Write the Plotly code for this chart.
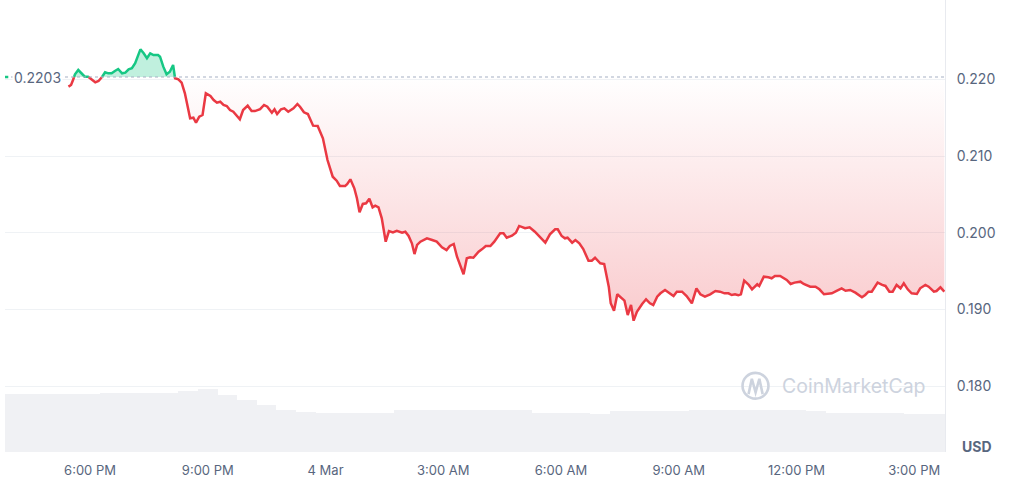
import numpy as np
import pandas as pd
import plotly.graph_objects as go

# ---------------- data ----------------
BASE_PRICE = 0.2203  # reference price (dotted line)
ORIGIN = pd.Timestamp("2024-03-03 18:00")

# minutes after 3 Mar 18:00
price_minutes = [
    -33, -29, -26, -23, -18, -13, -8, -3, 3, 8,
    13, 18, 23, 28, 33, 38, 43, 49, 54, 59,
    64, 69, 77, 82, 87, 92, 97, 104, 107, 112,
    117, 122, 127, 130, 135, 140, 145, 153, 158, 162,
    167, 172, 177, 184, 189, 194, 199, 204, 209, 214,
    219, 227, 229, 234, 241, 247, 252, 260, 266, 271,
    278, 282, 286, 292, 297, 303, 311, 317, 321, 327,
    333, 341, 348, 356, 363, 371, 377, 382, 390, 393,
    398, 404, 408, 412, 417, 422, 427, 432, 436, 441,
    446, 452, 457, 463, 469, 477, 482, 487, 492, 496,
    500, 505, 515, 523, 530, 538, 545, 550, 556, 561,
    567, 571, 576, 581, 586, 594, 599, 605, 612, 618,
    627, 632, 637, 645, 651, 656, 665, 672, 680, 689,
    696, 703, 711, 715, 721, 726, 730, 737, 742, 748,
    754, 762, 767, 772, 780, 786, 793, 796, 801, 806,
    812, 817, 822, 827, 831, 836, 844, 850, 856, 861,
    867, 872, 879, 887, 892, 897, 905, 912, 920, 927,
    933, 940, 948, 956, 963, 970, 976, 981, 986, 991,
    995, 1000, 1007, 1012, 1020, 1023, 1030, 1037, 1042, 1047,
    1055, 1065, 1071, 1077, 1086, 1091, 1096, 1101, 1109, 1115,
    1122, 1129, 1134, 1142, 1149, 1155, 1162, 1170, 1175, 1180,
    1185, 1190, 1195, 1204, 1211, 1216, 1222, 1227, 1233, 1239,
    1244, 1250, 1256, 1264, 1269, 1277, 1282, 1290, 1294, 1300, 1306,
]
price_values = [
    0.21904, 0.21926, 0.21991, 0.22065, 0.22121, 0.22078, 0.22034, 0.22034, 0.22000, 0.21961,
    0.21978, 0.22026, 0.22091, 0.22078, 0.22078, 0.22108, 0.22134, 0.22078, 0.22086, 0.22130,
    0.22144, 0.22209, 0.22391, 0.22339, 0.22274, 0.22339, 0.22317, 0.22317, 0.22295, 0.22165,
    0.22065, 0.22099, 0.22187, 0.22013, 0.22000, 0.21956, 0.21817, 0.21492, 0.21499, 0.21434,
    0.21512, 0.21534, 0.21817, 0.21782, 0.21730, 0.21695, 0.21708, 0.21665, 0.21652, 0.21599,
    0.21577, 0.21505, 0.21479, 0.21599, 0.21656, 0.21586, 0.21586, 0.21612, 0.21665, 0.21643,
    0.21564, 0.21609, 0.21547, 0.21609, 0.21622, 0.21577, 0.21622, 0.21678, 0.21643, 0.21570,
    0.21547, 0.21396, 0.21392, 0.21231, 0.20948, 0.20730, 0.20678, 0.20609, 0.20609, 0.20632,
    0.20696, 0.20579, 0.20449, 0.20266, 0.20375, 0.20384, 0.20443, 0.20331, 0.20352, 0.20331,
    0.20188, 0.19883, 0.20022, 0.20005, 0.20026, 0.20000, 0.20013, 0.19957, 0.19862, 0.19722,
    0.19840, 0.19883, 0.19927, 0.19905, 0.19883, 0.19809, 0.19774, 0.19827, 0.19853, 0.19687,
    0.19549, 0.19458, 0.19666, 0.19679, 0.19674, 0.19752, 0.19783, 0.19827, 0.19827, 0.19883,
    0.19992, 0.19992, 0.19935, 0.19961, 0.20000, 0.20088, 0.20058, 0.20071, 0.20013, 0.19935,
    0.19870, 0.19979, 0.20045, 0.20045, 0.19957, 0.19927, 0.19935, 0.19870, 0.19905, 0.19862,
    0.19787, 0.19635, 0.19635, 0.19674, 0.19601, 0.19592, 0.19297, 0.19080, 0.18983, 0.19197,
    0.19145, 0.19114, 0.18927, 0.19058, 0.18853, 0.18970, 0.19071, 0.19132, 0.19080, 0.19058,
    0.19166, 0.19210, 0.19253, 0.19201, 0.19175, 0.19231, 0.19231, 0.19175, 0.19080, 0.19275,
    0.19197, 0.19166, 0.19197, 0.19240, 0.19231, 0.19210, 0.19210, 0.19188, 0.19197, 0.19184,
    0.19197, 0.19375, 0.19319, 0.19262, 0.19328, 0.19306, 0.19427, 0.19419, 0.19406, 0.19436,
    0.19436, 0.19384, 0.19332, 0.19349, 0.19362, 0.19332, 0.19319, 0.19297, 0.19297, 0.19262,
    0.19197, 0.19210, 0.19210, 0.19244, 0.19275, 0.19244, 0.19253, 0.19218, 0.19188, 0.19158,
    0.19188, 0.19231, 0.19231, 0.19349, 0.19319, 0.19306, 0.19231, 0.19231, 0.19319, 0.19275,
    0.19341, 0.19262, 0.19210, 0.19201, 0.19275, 0.19319, 0.19296, 0.19231, 0.19240, 0.19288, 0.19231,
]

# volume bars: every 30 minutes from 3 Mar 16:00 (millions USD, estimated)
volume_start = "2024-03-03 16:00"
volume_values = [
    5.8, 5.8, 5.8, 5.8,
    5.8, 5.9, 5.9, 5.9, 5.9, 6.1, 6.3, 5.7, 5.2, 4.7, 4.2, 4.0,
    3.9, 3.9, 3.9, 3.9, 4.2, 4.2, 4.2, 4.2, 4.2, 4.2, 4.2, 3.9, 3.9, 3.9, 3.8, 4.1,
    4.1, 4.1, 4.1, 4.2, 4.2, 4.2, 4.2, 4.2, 4.2, 4.1, 3.9, 3.9, 3.9, 3.9, 3.8, 3.8,
    3.8,
]

x_tick_vals = ["2024-03-03 18:00", "2024-03-03 21:00", "2024-03-04 00:00", "2024-03-04 03:00",
               "2024-03-04 06:00", "2024-03-04 09:00", "2024-03-04 12:00", "2024-03-04 15:00"]
x_tick_text = ["6:00 PM", "9:00 PM", "4 Mar", "3:00 AM", "6:00 AM", "9:00 AM", "12:00 PM", "3:00 PM"]
y_tick_vals = [0.18, 0.19, 0.20, 0.21, 0.22]
y_tick_text = ["0.180", "0.190", "0.200", "0.210", "0.220"]

X_RANGE = ["2024-03-03 15:50", "2024-03-04 15:47"]
Y_RANGE = [0.17141, 0.23034]

GREEN = "#16c784"
RED = "#ea3943"
TEXT = "#58667e"
GRID = "#eff2f5"
FONT = "Inter, sans-serif"

# ---------------- build geometry ----------------
xs = np.array(price_minutes, dtype=float)
ys = np.array(price_values, dtype=float)
X, Y = [xs[0]], [ys[0]]
for i in range(1, len(xs)):
    y0, y1 = ys[i - 1], ys[i]
    if (y0 - BASE_PRICE) * (y1 - BASE_PRICE) < 0:
        f = (BASE_PRICE - y0) / (y1 - y0)
        X.append(xs[i - 1] + f * (xs[i] - xs[i - 1]))
        Y.append(BASE_PRICE)
    X.append(xs[i])
    Y.append(ys[i])
X = np.array(X)
Y = np.array(Y)
T = ORIGIN + pd.to_timedelta(X, unit="m")

upper = np.where(Y >= BASE_PRICE - 1e-12, Y, np.nan)
lower = np.where(Y <= BASE_PRICE + 1e-12, Y, np.nan)
base_arr = np.full(len(Y), BASE_PRICE)

vol_t = pd.date_range(volume_start, periods=len(volume_values), freq="30min")

fig = go.Figure()

# volume (secondary axis)
fig.add_trace(go.Bar(x=vol_t, y=volume_values, yaxis="y2", marker_color="#f0f1f4",
                     marker_line_width=0, hoverinfo="skip", showlegend=False))

# green fill above reference
fig.add_trace(go.Scatter(x=T, y=base_arr, mode="lines", line=dict(width=0),
                         hoverinfo="skip", showlegend=False))
fig.add_trace(go.Scatter(x=T, y=np.maximum(Y, BASE_PRICE), mode="lines", line=dict(width=0),
                         fill="tonexty", fillcolor="rgba(22,199,132,0.27)",
                         hoverinfo="skip", showlegend=False))
# red gradient fill below reference
fig.add_trace(go.Scatter(x=T, y=base_arr, mode="lines", line=dict(width=0),
                         hoverinfo="skip", showlegend=False))
fig.add_trace(go.Scatter(x=T, y=np.minimum(Y, BASE_PRICE), mode="lines", line=dict(width=0),
                         fill="tonexty",
                         fillgradient=dict(type="vertical",
                                           colorscale=[[0, "rgba(234,57,67,0.26)"],
                                                       [1, "rgba(234,57,67,0.0)"]],
                                           start=0.1885, stop=BASE_PRICE),
                         hoverinfo="skip", showlegend=False))

# price lines
fig.add_trace(go.Scatter(x=T, y=lower, mode="lines", line=dict(color=RED, width=2.5),
                         connectgaps=False, showlegend=False))
fig.add_trace(go.Scatter(x=T, y=upper, mode="lines", line=dict(color=GREEN, width=2.5),
                         connectgaps=False, showlegend=False))

shapes = [
    dict(type="line", xref="paper", yref="y", x0=0, x1=1, y0=BASE_PRICE, y1=BASE_PRICE,
         line=dict(color="#a6b0c3", width=1.2, dash="dot"), layer="above"),
    dict(type="line", xref="paper", yref="y", x0=0, x1=0.0035, y0=BASE_PRICE, y1=BASE_PRICE,
         line=dict(color=GREEN, width=2.5), layer="above"),
    # watermark logo
    dict(type="circle", xref="paper", yref="paper", x0=0.7846, x1=0.8122, y0=0.118, y1=0.175,
         line=dict(color="#cdd3de", width=2.6)),
    dict(type="path", xref="paper", yref="paper",
         path="M 0.7910,0.128 L 0.7945,0.162 L 0.7985,0.132 L 0.8025,0.162 L 0.8060,0.128",
         line=dict(color="#cdd3de", width=2.6)),
]

annotations = [
    dict(xref="paper", yref="y", x=0, y=BASE_PRICE, xanchor="left", yanchor="middle", xshift=7,
         text="0.2203", showarrow=False, font=dict(family=FONT, size=14, color=TEXT),
         bgcolor="white", borderpad=1),
    dict(xref="paper", yref="paper", x=1.034, y=0.012, xanchor="center", yanchor="middle",
         text="<b>USD</b>", showarrow=False, font=dict(family=FONT, size=14, color=TEXT)),
    dict(xref="paper", yref="paper", x=0.9035, y=0.145, xanchor="center", yanchor="middle",
         text="CoinMarketCap", showarrow=False, font=dict(family=FONT, size=19.5, color="#cdd3de")),
]

fig.update_layout(
    width=1024, height=491,
    margin=dict(l=5, r=79, t=0, b=39),
    paper_bgcolor="white", plot_bgcolor="white",
    font=dict(family=FONT, color=TEXT, size=13),
    bargap=0,
    showlegend=False,
    shapes=shapes,
    annotations=annotations,
    xaxis=dict(type="date", range=X_RANGE, tickvals=x_tick_vals, ticktext=x_tick_text,
               showgrid=False, zeroline=False, showline=False, ticks="",
               tickfont=dict(size=13, color=TEXT), ticklabelstandoff=9),
    yaxis=dict(range=Y_RANGE, side="right", tickvals=y_tick_vals, ticktext=y_tick_text,
               showgrid=True, gridcolor=GRID, gridwidth=1, zeroline=False,
               showline=True, linecolor="#e8eaef", linewidth=1, ticks="",
               tickfont=dict(size=14, color=TEXT), ticklabelstandoff=8),
    yaxis2=dict(overlaying="y", range=[0, 45.2], visible=False, showgrid=False),
)

fig.write_html("out.html", config={"displayModeBar": False},
               post_script="document.body.style.margin='0';")
